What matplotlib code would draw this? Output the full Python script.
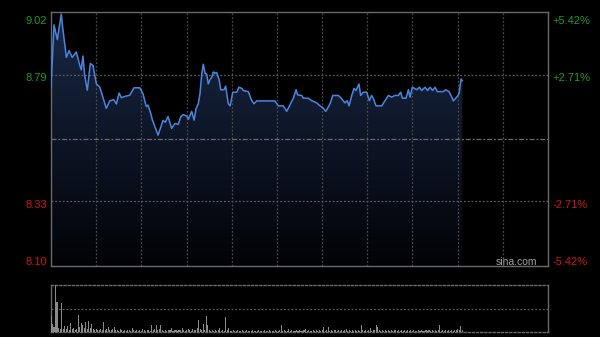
import numpy as np
import matplotlib
matplotlib.use("Agg")
import matplotlib.pyplot as plt
from matplotlib.colors import LinearSegmentedColormap

# ---------------- data ----------------
prev_close = 8.557
y_ticks = [9.02, 8.79, 8.33, 8.10]
pct_labels = ["+5.42%", "+2.71%", "-2.71%", "-5.42%"]

minutes = [0, 2, 4.2, 6.8, 7.8, 10.2, 12, 14.1, 16.8, 19.1, 20.1, 21.2, 22.4, 24.1, 26.1, 27.9,
           30.1, 32.3, 33.4, 36.7, 39, 41.6, 43.4, 45.2, 46.7, 49.3, 52.3, 55.1, 58.9, 61.1,
           63.3, 64.4, 66.2, 67.3, 68.9, 71.1, 74.4, 75.9, 77.7, 80.1, 82.3, 84.5, 86.1, 87.8,
           90.1, 91.2, 93.4, 95, 96.3, 97.8, 98.9, 100.1, 101.1, 102.3, 103.4, 104.4, 105.6,
           106.7, 107.8, 108.9, 110, 111.8, 112.7, 114.9, 116, 117.7, 118.9, 120.7, 123.3,
           124.8, 126.6, 127.7, 131, 133.3, 134.8, 136.6, 148.7, 150.9, 154.2, 156.5, 158.7,
           160.9, 162.7, 163.8, 166.5, 167.5, 170.8, 173.1, 176.4, 178.6, 180.8, 182.4, 183.7,
           185.3, 187.1, 190.8, 192.6, 195.2, 196.7, 197.9, 199.7, 201.2, 202.5, 204.5, 205.6,
           207.4, 209.6, 211.4, 212.9, 214, 215.8, 219.6, 221.8, 224, 226.2, 228.4, 230.6,
           232.2, 233.3, 235.7, 237.3, 238.4, 239.9, 242.9, 244.6, 246.1, 248.3, 250.1, 251.7,
           253.4, 255, 256.5, 260.5, 262.1, 264.3, 266.1, 267.1, 269.4, 270.9, 272.3, 273.1]

prices = [8.747, 8.974, 8.92, 9.013, 8.963, 8.855, 8.88, 8.855, 8.875, 8.826, 8.81, 8.86, 8.789,
          8.735, 8.833, 8.825, 8.759, 8.747, 8.729, 8.669, 8.696, 8.701, 8.685, 8.725, 8.708,
          8.713, 8.717, 8.744, 8.744, 8.722, 8.675, 8.681, 8.651, 8.627, 8.603, 8.571, 8.625,
          8.618, 8.639, 8.596, 8.614, 8.61, 8.638, 8.646, 8.641, 8.629, 8.658, 8.626, 8.668,
          8.686, 8.722, 8.794, 8.83, 8.797, 8.794, 8.758, 8.774, 8.782, 8.802, 8.797, 8.80,
          8.77, 8.737, 8.737, 8.75, 8.686, 8.678, 8.728, 8.728, 8.746, 8.742, 8.734, 8.73,
          8.697, 8.686, 8.696, 8.696, 8.678, 8.678, 8.658, 8.682, 8.706, 8.737, 8.718, 8.716,
          8.706, 8.706, 8.697, 8.689, 8.678, 8.67, 8.658, 8.67, 8.686, 8.716, 8.716, 8.706,
          8.689, 8.697, 8.678, 8.716, 8.742, 8.734, 8.758, 8.716, 8.728, 8.728, 8.697, 8.716,
          8.706, 8.678, 8.678, 8.697, 8.716, 8.71, 8.716, 8.716, 8.728, 8.706, 8.706, 8.737,
          8.71, 8.746, 8.737, 8.746, 8.734, 8.746, 8.734, 8.746, 8.734, 8.746, 8.73, 8.73,
          8.737, 8.73, 8.71, 8.696, 8.71, 8.722, 8.776, 8.77]

volumes = [16, 8, 5, 47, 30, 4, 3, 29, 3, 6,
           3, 6, 2, 9, 3, 4, 2, 3, 17, 5,
           9, 7, 4, 10, 3, 11, 4, 8, 3, 2,
           3, 2, 2, 3, 2, 10, 2, 3, 5, 2,
           2, 3, 5, 2, 2, 1, 3, 2, 1, 2,
           1, 2, 2, 1, 4, 2, 1, 2, 1, 2,
           1, 3, 2, 1, 2, 2, 1, 7, 2, 3,
           7, 2, 3, 7, 2, 1, 2, 1, 2, 2,
           4, 1, 2, 2, 1, 2, 2, 4, 2, 1,
           2, 3, 2, 1, 3, 2, 2, 4, 12, 3,
           2, 8, 2, 16, 7, 2, 1, 2, 1, 2,
           1, 2, 4, 1, 2, 1, 15, 2, 4, 1,
           1, 2, 1, 1, 2, 1, 1, 2, 1, 1,
           2, 1, 1, 1, 2, 1, 1, 1, 2, 1,
           1, 1, 2, 1, 1, 2, 1, 1, 1, 2,
           1, 1, 2, 7, 1, 2, 1, 1, 3, 1,
           2, 1, 1, 2, 1, 2, 1, 1, 2, 3,
           1, 2, 1, 1, 2, 1, 2, 1, 2, 1,
           2, 5, 1, 2, 5, 1, 2, 1, 2, 2,
           1, 2, 1, 2, 1, 2, 3, 1, 2, 1,
           2, 1, 2, 1, 2, 1, 7, 2, 1, 2,
           1, 2, 4, 1, 2, 2, 7, 5, 2, 1,
           2, 1, 2, 1, 2, 1, 2, 1, 2, 2,
           1, 2, 1, 2, 1, 2, 1, 2, 1, 2,
           1, 2, 1, 1, 2, 1, 2, 1, 1, 2,
           1, 2, 1, 2, 1, 2, 1, 2, 7, 1,
           2, 1, 2, 1, 2, 1, 2, 1, 2, 2,
           3, 2, 6, 2]

total_minutes = 330
grid_minutes = [30, 60, 90, 120, 150, 180, 210, 240, 270, 300]

# ---------------- style ----------------
plt.rcParams['font.family'] = ['Liberation Sans', 'DejaVu Sans']
W, H = 600, 337
fig = plt.figure(figsize=(W / 100, H / 100), dpi=100, facecolor='black')

green = '#1f9a1f'
red = '#d01414'
frame_c = '#6a6a6a'
grid_c = '#4a4a4a'

ymin = prev_close * (1 - 0.0542)
ymax = prev_close * (1 + 0.0542)

ax = fig.add_axes([51 / W, 1 - 266 / H, 497 / W, 254 / H])
ax.set_facecolor('black')
ax.set_xlim(0, total_minutes)
ax.set_ylim(ymin, ymax)

# gradient fill under line
cmap = LinearSegmentedColormap.from_list('g', ['#020306', '#0d1526', '#1b2947'])
grad = np.linspace(0, 1, 256).reshape(-1, 1)
im = ax.imshow(grad, extent=[0, total_minutes, ymin, ymax], origin='lower',
               cmap=cmap, aspect='auto', zorder=1)
poly = ax.fill_between(minutes, prices, ymin, color='none', lw=0)
im.set_clip_path(poly.get_paths()[0], transform=ax.transData)

# grid
for m in grid_minutes:
    ax.axvline(m, color=grid_c, lw=0.9, ls=(0, (1.5, 1.5)), zorder=2)
for v in [y_ticks[1], y_ticks[2]]:
    ax.axhline(v, color='#5a5a5a', lw=0.9, ls=(0, (1.5, 1.5)), zorder=2)
ax.axhline(prev_close, color='#6a6a6a', lw=0.9, ls=(0, (4, 1.5, 1.5, 1.5)), zorder=2)

ax.plot(minutes, prices, color='#4a86dc', lw=1.1, zorder=4, solid_joinstyle='round')

ax.set_xticks([])
ax.set_yticks([])
for s in ax.spines.values():
    s.set_color(frame_c)
    s.set_linewidth(1.0)

# labels (positioned in data units)
lab_y = [8.988, 8.779, 8.316, 8.106]
for v, t, py in zip(y_ticks, pct_labels, lab_y):
    c = green if v > prev_close else red
    ax.text(-4 / 1.506, py, f"{v:.2f}", color=c, fontsize=8, ha='right', va='center')
    ax.text(total_minutes + 4.5 / 1.506, py, t, color=c, fontsize=8, ha='left', va='center')

ax.text(total_minutes - 11 / 1.506, 8.106, "sina.com", color='#a0a0a0', fontsize=7.5,
        ha='right', va='center', zorder=5)

# volume panel
axv = fig.add_axes([51 / W, 1 - 332 / H, 497 / W, 47 / H])
axv.set_facecolor('black')
axv.set_xlim(0, total_minutes)
vmax = max(volumes)
axv.set_ylim(0, vmax * 1.0)
axv.bar(np.arange(len(volumes)), volumes, width=0.7, color='#8a8a8a', lw=0, zorder=3)
axv.axhline(vmax / 2, color='#5a5a5a', lw=0.9, ls=(0, (1.5, 1.5)), zorder=2)
axv.set_xticks([])
axv.set_yticks([])
for k, s in axv.spines.items():
    s.set_color(frame_c)
    s.set_linewidth(1.0)
axv.spines['top'].set_linestyle((0, (1.5, 1.5)))
axv.spines['bottom'].set_linestyle((0, (1.5, 1.5)))

fig.savefig('out.png', dpi=100, facecolor='black')
